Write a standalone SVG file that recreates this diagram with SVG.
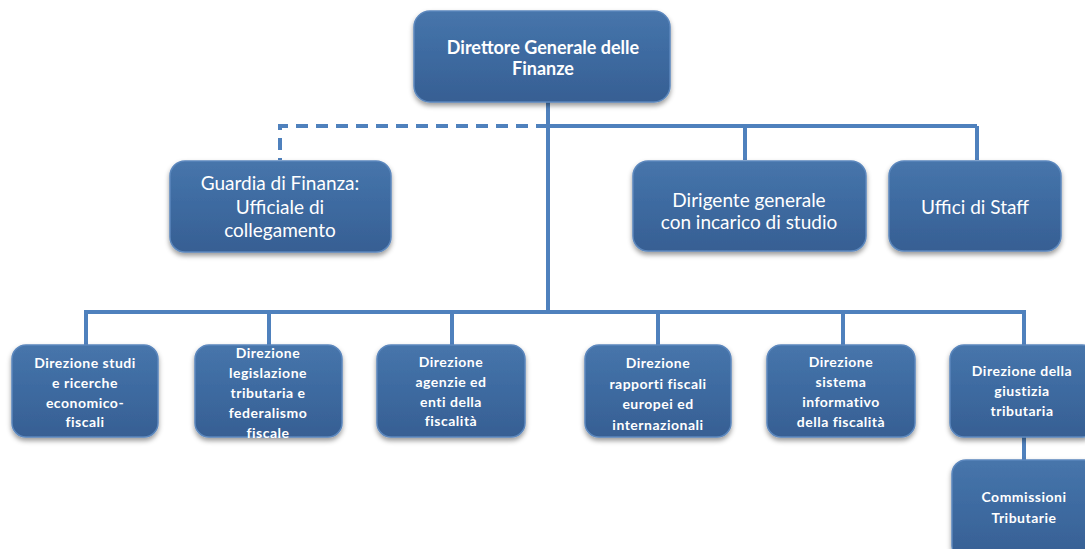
<svg xmlns="http://www.w3.org/2000/svg" width="1085" height="549" viewBox="0 0 1085 549">
<defs>
<linearGradient id="g" x1="0" y1="0" x2="0" y2="1">
<stop offset="0" stop-color="#4775ab"/>
<stop offset="0.5" stop-color="#3d6aa0"/>
<stop offset="1" stop-color="#375f93"/>
</linearGradient>
<filter id="sh" x="-10%" y="-10%" width="125%" height="135%">
<feDropShadow dx="0" dy="3" stdDeviation="2.5" flood-color="#000" flood-opacity="0.4"/>
</filter>
</defs>
<style>
.box{fill:url(#g);stroke:#5b87bd;stroke-width:1.5;filter:url(#sh)}
.ln{fill:none;stroke:#4f81bd;stroke-width:4}
.dash{fill:none;stroke:#4f81bd;stroke-width:4;stroke-dasharray:12 8}
text{fill:#fff;font-family:Lato,"Liberation Sans",sans-serif;text-anchor:middle}
.b{font-weight:bold;font-size:14px;letter-spacing:0.5px}
.t{font-weight:bold;font-size:18px}
.m{font-size:19px}
</style>
<rect width="1085" height="549" fill="#fff"/>
<g id="connectors">
<path class="dash" d="M548 126 H280 V160"/>
<path class="ln" d="M548 102 V312"/>
<path class="ln" d="M548 126 H977 M745 126 V160 M977 126 V160"/>
<path class="ln" d="M86 345 V312 H1024 V345 M269 312 V345 M452 312 V345 M658 312 V345 M843 312 V345"/>
<path class="ln" d="M1024 437 V460"/>
</g>
<g id="n-direttore">
<rect class="box" x="414" y="11" width="256" height="91" rx="16"/>
<text class="t" x="543" y="54">Direttore Generale delle</text>
<text class="t" x="543" y="75">Finanze</text>
</g>
<g id="n-guardia">
<rect class="box" x="170" y="161" width="221" height="91" rx="15"/>
<text class="m" x="280" y="190">Guardia di Finanza:</text>
<text class="m" x="280" y="214">Ufficiale di</text>
<text class="m" x="280" y="237">collegamento</text>
</g>
<g id="n-dirigente">
<rect class="box" x="633" y="161" width="233" height="90" rx="15"/>
<text class="m" x="749" y="207">Dirigente generale</text>
<text class="m" x="749" y="229">con incarico di studio</text>
</g>
<g id="n-uffici">
<rect class="box" x="889" y="161" width="172" height="90" rx="15"/>
<text class="m" x="975" y="214">Uffici di Staff</text>
</g>
<g id="n-studi">
<rect class="box" x="12" y="345" width="146" height="92" rx="14"/>
<text class="b" x="85" y="368">Direzione studi</text>
<text class="b" x="85" y="388">e ricerche</text>
<text class="b" x="85" y="408">economico-</text>
<text class="b" x="85" y="427">fiscali</text>
</g>
<g id="n-legislazione">
<rect class="box" x="195" y="345" width="147" height="92" rx="14"/>
<text class="b" x="268" y="358">Direzione</text>
<text class="b" x="268" y="378">legislazione</text>
<text class="b" x="268" y="398">tributaria e</text>
<text class="b" x="268" y="418">federalismo</text>
<text class="b" x="268" y="438">fiscale</text>
</g>
<g id="n-agenzie">
<rect class="box" x="377" y="345" width="148" height="92" rx="14"/>
<text class="b" x="451" y="367">Direzione</text>
<text class="b" x="451" y="387">agenzie ed</text>
<text class="b" x="451" y="407">enti della</text>
<text class="b" x="451" y="426">fiscalità</text>
</g>
<g id="n-rapporti">
<rect class="box" x="585" y="345" width="146" height="92" rx="14"/>
<text class="b" x="658" y="368">Direzione</text>
<text class="b" x="658" y="389">rapporti fiscali</text>
<text class="b" x="658" y="409">europei ed</text>
<text class="b" x="658" y="430">internazionali</text>
</g>
<g id="n-sistema">
<rect class="box" x="767" y="345" width="148" height="92" rx="14"/>
<text class="b" x="841" y="367">Direzione</text>
<text class="b" x="841" y="387">sistema</text>
<text class="b" x="841" y="407">informativo</text>
<text class="b" x="841" y="427">della fiscalità</text>
</g>
<g id="n-giustizia">
<rect class="box" x="950" y="345" width="146" height="92" rx="14"/>
<text class="b" x="1022" y="376">Direzione della</text>
<text class="b" x="1022" y="396">giustizia</text>
<text class="b" x="1022" y="416">tributaria</text>
</g>
<g id="n-commissioni">
<rect class="box" x="952" y="460" width="146" height="100" rx="14"/>
<text class="b" x="1024" y="502">Commissioni</text>
<text class="b" x="1024" y="523">Tributarie</text>
</g>
</svg>
